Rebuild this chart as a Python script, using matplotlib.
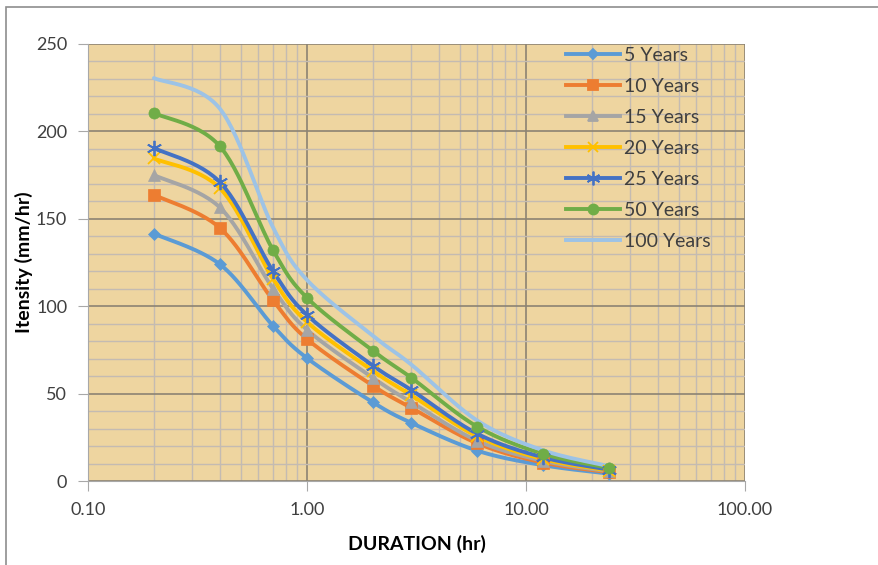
import numpy as np
import matplotlib.pyplot as plt
from matplotlib.ticker import FixedLocator, NullFormatter, FuncFormatter

# Data
duration = [0.2, 0.4, 0.7, 1.0, 2.0, 3.0, 6.0, 12.0, 24.0]
series_names = ['5 Years', '10 Years', '15 Years', '20 Years', '25 Years', '50 Years', '100 Years']
y5 = [141.5, 124.0, 88.7, 70.3, 45.0, 33.2, 17.3, 9.0, 4.2]
y10 = [163.7, 144.8, 103.3, 81.2, 54.5, 41.8, 21.5, 10.5, 5.0]
y15 = [175.0, 156.5, 110.0, 86.5, 59.0, 45.0, 23.0, 11.5, 5.5]
y20 = [184.5, 167.5, 115.5, 91.0, 63.0, 49.0, 25.5, 12.5, 6.0]
y25 = [190.5, 171.0, 120.0, 95.0, 66.0, 52.0, 27.0, 13.5, 6.5]
y50 = [210.5, 191.5, 132.0, 104.8, 74.5, 59.0, 31.0, 15.5, 7.5]
y100 = [230.5, 213.0, 145.0, 115.0, 83.0, 66.5, 34.5, 17.5, 8.5]
all_series = [y5, y10, y15, y20, y25, y50, y100]

colors = ['#5B9BD5', '#ED7D31', '#A5A5A5', '#FFC000', '#4472C4', '#70AD47', '#9DC3E6']
markers = ['D', 's', '^', 'x', (6, 2, 0), 'o', None]
msizes = [6, 8, 8, 8, 11, 8, 0]


def smooth(xs, ys, n=30):
    # Catmull-Rom style smoothing in log-x space (like Excel's smoothed line)
    lx = np.log10(xs)
    ys = np.asarray(ys, float)
    px = np.concatenate([[lx[0]], lx, [lx[-1]]])
    py = np.concatenate([[ys[0]], ys, [ys[-1]]])
    out_x, out_y = [], []
    t = np.linspace(0, 1, n)
    for i in range(1, len(px) - 2):
        p0, p1, p2, p3 = px[i - 1], px[i], px[i + 1], px[i + 2]
        q0, q1, q2, q3 = py[i - 1], py[i], py[i + 1], py[i + 2]
        c1x, c1y = p1 + (p2 - p0) / 6, q1 + (q2 - q0) / 6
        c2x, c2y = p2 - (p3 - p1) / 6, q2 - (q3 - q1) / 6
        bx = (1 - t)**3 * p1 + 3 * (1 - t)**2 * t * c1x + 3 * (1 - t) * t**2 * c2x + t**3 * p2
        by = (1 - t)**3 * q1 + 3 * (1 - t)**2 * t * c1y + 3 * (1 - t) * t**2 * c2y + t**3 * q2
        out_x.extend(bx)
        out_y.extend(by)
    return 10**np.array(out_x), np.array(out_y)


plt.rcParams['font.family'] = ['Lato', 'DejaVu Sans']

fig = plt.figure(figsize=(8.79, 5.65), dpi=100)
# outer chart frame
fig.patches.append(plt.Rectangle((6 / 879, -0.05), 1.0, 1 - 7 / 565 + 0.05,
                                 transform=fig.transFigure, fill=False,
                                 edgecolor='#8E8E8E', linewidth=1.2))
ax = fig.add_axes([88 / 879, 1 - 481 / 565, (745 - 88) / 879, (481 - 44) / 565])
ax.set_facecolor('#EED5A0')

for name, ys, c, m, ms in zip(series_names, all_series, colors, markers, msizes):
    sx, sy = smooth(duration, ys)
    ax.plot(sx, sy, color=c, linewidth=2.8, solid_capstyle='round', zorder=3)
    if m is not None:
        ax.plot(duration, ys, linestyle='none', marker=m, markersize=ms, color=c,
                markeredgecolor=c, markeredgewidth=1.3 if m in ('x', (6, 2, 0)) else 0.5,
                zorder=4)
    # legend handle
    ax.plot([], [], color=c, linewidth=2.8, marker=m, markersize=ms * 0.9,
            markeredgewidth=1.3, label=name)

ax.set_xscale('log')
ax.set_xlim(0.1, 100)
ax.set_ylim(0, 250)

ax.xaxis.set_major_locator(FixedLocator([0.1, 1, 10, 100]))
ax.xaxis.set_major_formatter(FuncFormatter(lambda v, p: f'{v:.2f}'))
minor_x = [m * 10.0**e for e in (-1, 0, 1) for m in range(2, 10)]
ax.xaxis.set_minor_locator(FixedLocator(minor_x))
ax.xaxis.set_minor_formatter(NullFormatter())
ax.set_yticks([0, 50, 100, 150, 200, 250])
ax.yaxis.set_minor_locator(FixedLocator([v for v in range(0, 251, 10) if v % 50]))

ax.grid(True, which='major', color='#8C8373', linewidth=1.2, zorder=1)
ax.grid(True, which='minor', color='#C4BBB2', linewidth=1.0, zorder=1)
ax.set_axisbelow(True)

for s in ['top', 'right']:
    ax.spines[s].set_visible(False)
ax.spines['left'].set_color('#A8A8A8')
ax.spines['bottom'].set_color('#A8A8A8')
ax.tick_params(axis='both', which='major', labelsize=13, colors='#A8A8A8',
               labelcolor='#3F3F3F', length=7, pad=8)
ax.tick_params(axis='both', which='minor', length=0)

ax.set_xlabel('DURATION (hr)', fontsize=14, fontweight='bold', labelpad=12)
ax.set_ylabel('Itensity (mm/hr)', fontsize=14, fontweight='bold')
ax.yaxis.set_label_coords(-0.084, 0.5)

leg = ax.legend(loc='upper left', bbox_to_anchor=(0.715, 1.012), frameon=False,
                fontsize=14, handlelength=2.8, labelspacing=0.72,
                handletextpad=0.2, borderaxespad=0)
for t in leg.get_texts():
    t.set_color('#3F3F3F')

fig.savefig('out.png', dpi=100)
